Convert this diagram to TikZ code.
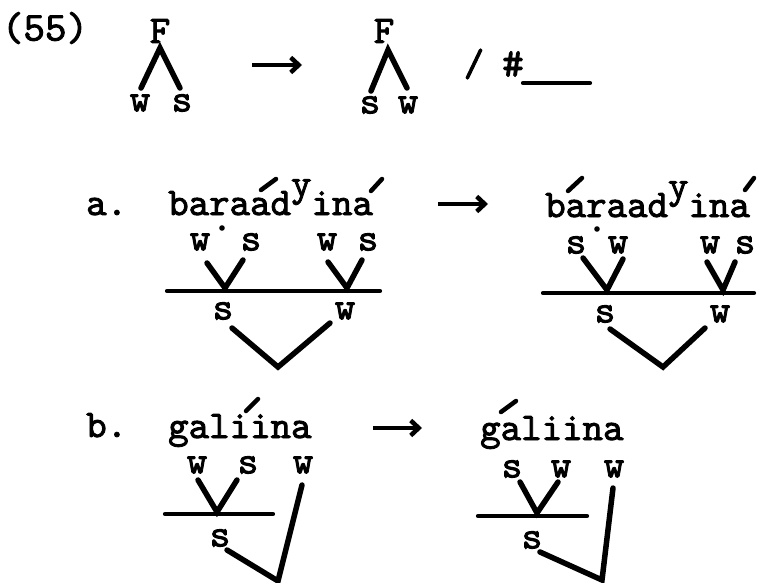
\documentclass[tikz,border=0pt]{standalone}
\usepackage{fontspec}
\newfontfamily\typew[FakeBold=2.2]{lmmono10-regular.otf}
\usetikzlibrary{arrows.meta}
\begin{document}
\begin{tikzpicture}[x=1pt,y=-1pt,
  tt/.style={font=\fontsize{39}{40}\selectfont\typew, inner sep=0pt},
  lab/.style={tt},
  word/.style={tt, anchor=base west},
  branch/.style={line width=5.5pt, line cap=round, line join=miter},
  bar/.style={line width=4.2pt, line cap=round},
  acc/.style={line width=4.5pt, line cap=round},
  arr/.style={line width=4.5pt, -{Straight Barb[length=8pt,width=15pt,line width=4.5pt]}},
]
\useasboundingbox (0,0) rectangle (757,583);

% ---------- rule (55) ----------
\node[tt, font=\fontsize{41}{42}\selectfont\typew] (num) at (45,28) {(55)};
\node[lab] (F1) at (160,31) {F};
\node[lab] (w1) at (140,103) {w};
\node[lab] (s1) at (182,103) {s};
\coordinate (F1a) at (160,48);
\coordinate (F1l) at (141,88);
\coordinate (F1r) at (180,88);
\draw[branch] (F1l) -- (F1a) -- (F1r);

\coordinate (r1s) at (252,65);
\coordinate (r1e) at (302,65);
\draw[arr] (r1s) -- (r1e);

\node[lab] (F2) at (384,31) {F};
\node[lab] (s2) at (370,105) {s};
\node[lab] (w2) at (408,105) {w};
\coordinate (F2a) at (388,50);
\coordinate (F2l) at (371,91);
\coordinate (F2r) at (407,88);
\draw[branch] (F2l) -- (F2a) -- (F2r);

\node[tt] (slash) at (474,64) {/};
\node[tt, font=\fontsize{41}{42}\selectfont\typew\slshape] (hash) at (513,64) {\#};
\coordinate (u1) at (523,83);
\coordinate (u2) at (590,83);
\draw[bar] (u1) -- (u2);

% ---------- example a, left ----------
\node[word] (la) at (86,215) {a.};
\node[word] (wa1) at (168,215) {baraad\raisebox{19pt}{y}ina};
\coordinate (ac1a) at (261,190); \coordinate (ac1b) at (276,179);
\draw[acc] (ac1a) -- (ac1b);
\coordinate (ac2a) at (371,191); \coordinate (ac2b) at (382,179);
\draw[acc] (ac2a) -- (ac2b);
\fill (222,228) circle (2.8);

\node[lab] (aw1) at (200,242) {w};
\node[lab] (as1) at (251,242) {s};
\node[lab] (aw2) at (327,242) {w};
\node[lab] (as2) at (368,242) {s};
\coordinate (av1l) at (207,263); \coordinate (av1a) at (225,288); \coordinate (av1r) at (243,260);
\draw[branch] (av1l) -- (av1a) -- (av1r);
\coordinate (av2l) at (328,262); \coordinate (av2a) at (347,288); \coordinate (av2r) at (362,260);
\draw[branch] (av2l) -- (av2a) -- (av2r);
\coordinate (ab1) at (167,291); \coordinate (ab2) at (380,291);
\draw[bar] (ab1) -- (ab2);
\node[lab] (aS) at (223,311) {s};
\node[lab] (aW) at (345,311) {w};
\coordinate (aVl) at (232,328); \coordinate (aVb) at (278,367); \coordinate (aVr) at (330,323);
\draw[branch] (aVl) -- (aVb) -- (aVr);

% ---------- example a, right ----------
\coordinate (r2s) at (438,204);
\coordinate (r2e) at (488,204);
\draw[arr] (r2s) -- (r2e);
\node[word] (wa2) at (545,217) {baraad\raisebox{19pt}{y}ina};
\coordinate (ac3a) at (568,191); \coordinate (ac3b) at (582,178);
\draw[acc] (ac3a) -- (ac3b);
\coordinate (ac4a) at (745,190); \coordinate (ac4b) at (754,178);
\draw[acc] (ac4a) -- (ac4b);
\fill (597,229) circle (2.8);

\node[lab] (bs1) at (576,245) {s};
\node[lab] (bw1) at (618,245) {w};
\node[lab] (bw2) at (710,245) {w};
\node[lab] (bs2) at (745,245) {s};
\coordinate (bv1l) at (583,258); \coordinate (bv1a) at (607,290); \coordinate (bv1r) at (623,259);
\draw[branch] (bv1l) -- (bv1a) -- (bv1r);
\coordinate (bv2l) at (707,262); \coordinate (bv2a) at (723,290); \coordinate (bv2r) at (735,262);
\draw[branch] (bv2l) -- (bv2a) -- (bv2r);
\coordinate (bb1) at (543,293); \coordinate (bb2) at (754,293);
\draw[bar] (bb1) -- (bb2);
\node[lab] (bS) at (605,314) {s};
\node[lab] (bW) at (720,314) {w};
\coordinate (bVl) at (610,329); \coordinate (bVb) at (663,367); \coordinate (bVr) at (705,328);
\draw[branch] (bVl) -- (bVb) -- (bVr);

% ---------- example b, left ----------
\node[word] (lb) at (86,437) {b.};
\node[word] (gb1) at (168,438) {galiina};
\coordinate (ac5a) at (246,411); \coordinate (ac5b) at (258,399);
\draw[acc] (ac5a) -- (ac5b);
\node[lab] (cw1) at (197,465) {w};
\node[lab] (cs1) at (248,465) {s};
\node[lab] (cw2) at (303,465) {w};
\coordinate (cvl) at (198,480); \coordinate (cva) at (217,512); \coordinate (cvr) at (237,480);
\draw[branch] (cvl) -- (cva) -- (cvr);
\coordinate (cb1) at (165,514); \coordinate (cb2) at (273,514);
\draw[bar] (cb1) -- (cb2);
\node[lab] (cS) at (220,538) {s};
\coordinate (cLl) at (227,550); \coordinate (cLb) at (278,581); \coordinate (cLr) at (302,485);
\draw[branch] (cLl) -- (cLb) -- (cLr);

% ---------- example b, right ----------
\coordinate (r3s) at (373,428);
\coordinate (r3e) at (422,428);
\draw[arr] (r3s) -- (r3e);
\node[word] (gb2) at (480,440) {galiina};
\coordinate (ac6a) at (501,412); \coordinate (ac6b) at (516,401);
\draw[acc] (ac6a) -- (ac6b);
\node[lab] (ds1) at (512,469) {s};
\node[lab] (dw1) at (561,469) {w};
\node[lab] (dw2) at (614,469) {w};
\coordinate (dvl) at (520,482); \coordinate (dva) at (537,513); \coordinate (dvr) at (558,482);
\draw[branch] (dvl) -- (dva) -- (dvr);
\coordinate (db1) at (478,516); \coordinate (db2) at (587,516);
\draw[bar] (db1) -- (db2);
\node[lab] (dS) at (532,540) {s};
\coordinate (dLl) at (540,552); \coordinate (dLb) at (602,580); \coordinate (dLr) at (613,488);
\draw[branch] (dLl) -- (dLb) -- (dLr);
\end{tikzpicture}
\end{document}
